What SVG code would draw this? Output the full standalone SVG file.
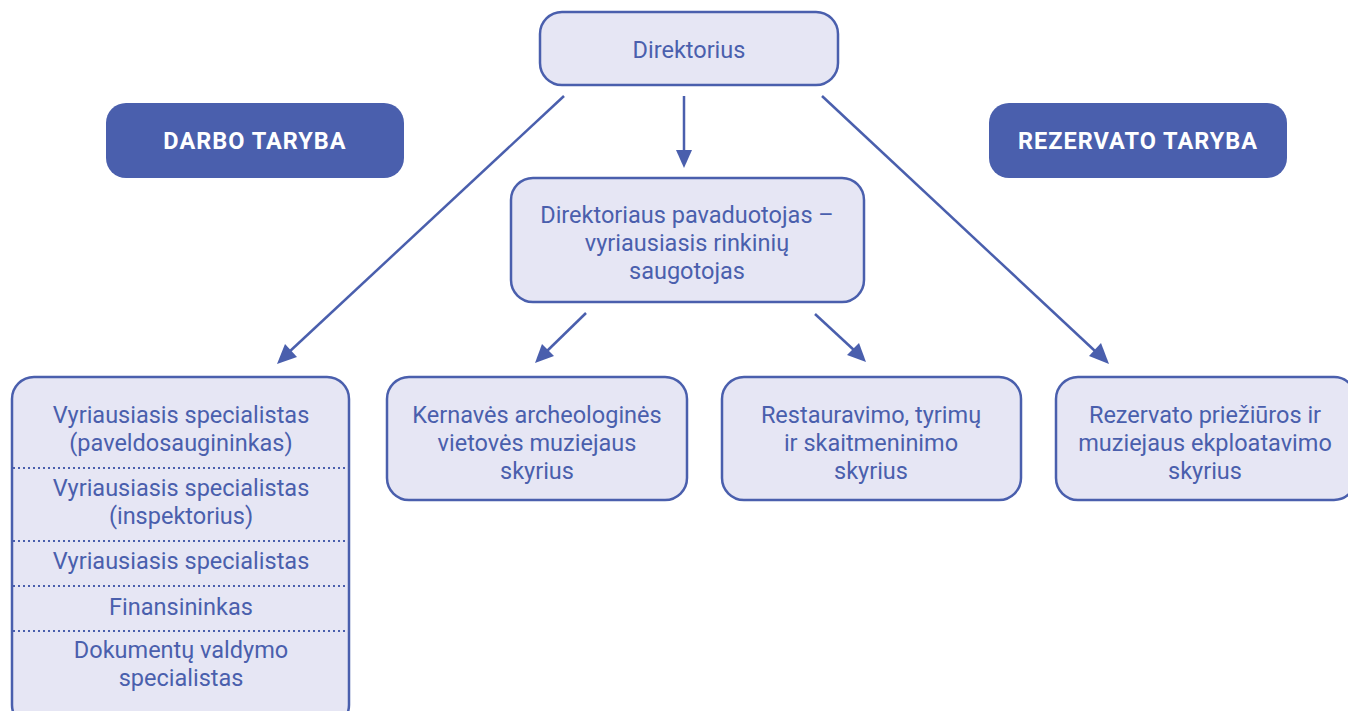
<svg xmlns="http://www.w3.org/2000/svg" width="1348" height="711" viewBox="0 0 1348 711">
<defs>
<style>
.box{fill:#E6E6F4;stroke:#4A5FAD;stroke-width:2.5}
.dark{fill:#4A5FAD}
.t{font-family:Roboto,"Liberation Sans",sans-serif;font-size:23.5px;fill:#4A5FAD;text-anchor:middle}
.w{font-family:Roboto,"Liberation Sans",sans-serif;font-size:23.5px;font-weight:bold;fill:#fff;text-anchor:middle;letter-spacing:1px}
.ln{stroke:#4A5FAD;stroke-width:2.5;fill:none}
.ah{fill:#4A5FAD}
.dot{stroke:#4A5FAD;stroke-width:2;stroke-dasharray:2 3}
</style>
</defs>
<rect width="1348" height="711" fill="#fff"/>
<g id="connectors">
<line class="ln" x1="564" y1="96" x2="288" y2="353"/>
<path class="ah" d="M277,364 L285,344 L297,357 z"/>
<line class="ln" x1="684" y1="96" x2="684" y2="152"/>
<path class="ah" d="M684,168 L676,150 L692,150 z"/>
<line class="ln" x1="822" y1="96" x2="1095" y2="351"/>
<path class="ah" d="M1109,364 L1089,356 L1101,343 z"/>
<line class="ln" x1="586" y1="313" x2="546" y2="352"/>
<path class="ah" d="M535,363 L542,344 L554,356 z"/>
<line class="ln" x1="815" y1="314" x2="855" y2="351"/>
<path class="ah" d="M866,362 L847,355 L859,343 z"/>
</g>
<g id="direktorius">
<rect class="box" x="540" y="12" width="298" height="73" rx="22"/>
<text class="t" x="689" y="58">Direktorius</text>
</g>
<g id="darbo-taryba">
<rect class="dark" x="106" y="103" width="298" height="75" rx="20"/>
<text class="w" x="255" y="149">DARBO TARYBA</text>
</g>
<g id="rezervato-taryba">
<rect class="dark" x="989" y="103" width="298" height="75" rx="20"/>
<text class="w" x="1138" y="149">REZERVATO TARYBA</text>
</g>
<g id="pavaduotojas">
<rect class="box" x="511" y="178" width="353" height="124" rx="22"/>
<text class="t" x="687" y="223">Direktoriaus pavaduotojas –</text>
<text class="t" x="687" y="251">vyriausiasis rinkinių</text>
<text class="t" x="687" y="279">saugotojas</text>
</g>
<g id="specialistai">
<rect class="box" x="12" y="377" width="337" height="350" rx="22"/>
<line class="dot" x1="13" y1="468" x2="352" y2="468"/>
<line class="dot" x1="13" y1="541" x2="352" y2="541"/>
<line class="dot" x1="13" y1="586" x2="352" y2="586"/>
<line class="dot" x1="13" y1="631" x2="352" y2="631"/>
<text class="t" x="181" y="423">Vyriausiasis specialistas</text>
<text class="t" x="181" y="451">(paveldosaugininkas)</text>
<text class="t" x="181" y="496">Vyriausiasis specialistas</text>
<text class="t" x="181" y="524">(inspektorius)</text>
<text class="t" x="181" y="569">Vyriausiasis specialistas</text>
<text class="t" x="181" y="615">Finansininkas</text>
<text class="t" x="181" y="658">Dokumentų valdymo</text>
<text class="t" x="181" y="686">specialistas</text>
</g>
<g id="kernave">
<rect class="box" x="387" y="377" width="300" height="123" rx="22"/>
<text class="t" x="537" y="423">Kernavės archeologinės</text>
<text class="t" x="537" y="451">vietovės muziejaus</text>
<text class="t" x="537" y="479">skyrius</text>
</g>
<g id="restauravimo">
<rect class="box" x="722" y="377" width="299" height="123" rx="22"/>
<text class="t" x="871" y="423">Restauravimo, tyrimų</text>
<text class="t" x="871" y="451">ir skaitmeninimo</text>
<text class="t" x="871" y="479">skyrius</text>
</g>
<g id="rezervato-prieziuros">
<rect class="box" x="1056" y="377" width="300" height="123" rx="22"/>
<text class="t" x="1205" y="423">Rezervato priežiūros ir</text>
<text class="t" x="1205" y="451">muziejaus ekploatavimo</text>
<text class="t" x="1205" y="479">skyrius</text>
</g>
</svg>
